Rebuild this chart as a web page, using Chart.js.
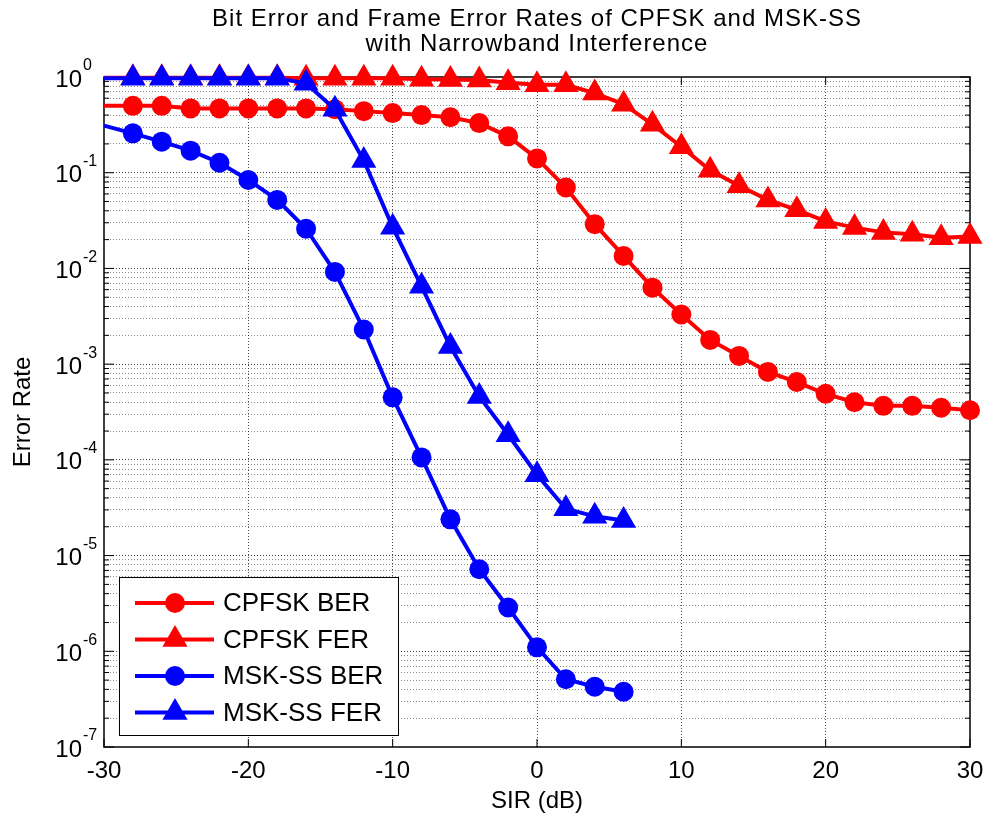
<!DOCTYPE html>
<html>
<head>
<meta charset="utf-8">
<script src="https://cdn.jsdelivr.net/npm/chart.js"></script>
<style>
body { margin: 0; background: #fff; }
#wrap { width: 987px; height: 819px; }
</style>
</head>
<body>
<div id="wrap"><canvas id="chart" width="987" height="819"></canvas></div>
<script>
// SIR in dB
const sirCpfsk = [-30, -28, -26, -24, -22, -20, -18, -16, -14, -12, -10, -8, -6, -4, -2,
                  0, 2, 4, 6, 8, 10, 12, 14, 16, 18, 20, 22, 24, 26, 28, 30];
const sirMsk = [-30, -28, -26, -24, -22, -20, -18, -16, -14, -12, -10, -8, -6, -4, -2, 0, 2, 4, 6];

const cpfskBer = [0.50, 0.50, 0.50, 0.47, 0.47, 0.47, 0.47, 0.47, 0.46, 0.44, 0.42, 0.40, 0.38, 0.33, 0.24,
                  0.141, 0.070, 0.029, 0.0135, 0.0063, 0.0033, 0.00179, 0.00122, 0.00083, 0.00065,
                  0.00049, 0.00040, 0.000367, 0.000367, 0.00035, 0.00033];
const cpfskFer = [0.98, 0.98, 0.98, 0.98, 0.98, 0.98, 0.98, 0.97, 0.97, 0.97, 0.97, 0.95, 0.94, 0.93, 0.87,
                  0.83, 0.83, 0.68, 0.52, 0.32, 0.187, 0.106, 0.073, 0.052, 0.041,
                  0.031, 0.0267, 0.0238, 0.0227, 0.0209, 0.0215];
const mskBer = [0.31, 0.258, 0.211, 0.170, 0.127, 0.084, 0.052, 0.026, 0.0092, 0.0023, 0.00045,
                1.06e-4, 2.39e-5, 7.2e-6, 2.87e-6, 1.10e-6, 5.1e-7, 4.26e-7, 3.78e-7];
const mskFer = [0.97, 0.97, 0.97, 0.97, 0.97, 0.97, 0.97, 0.86, 0.46, 0.134, 0.027,
                0.0065, 0.00153, 0.00046, 1.83e-4, 7.0e-5, 3.08e-5, 2.57e-5, 2.33e-5];

const xTicks = [-30, -20, -10, 0, 10, 20, 30];
const yExponents = [-7, -6, -5, -4, -3, -2, -1, 0];
const legendNames = ['CPFSK BER', 'CPFSK FER', 'MSK-SS BER', 'MSK-SS FER'];
const titleLines = ['Bit Error and Frame Error Rates of CPFSK and MSK-SS', 'with Narrowband Interference'];

const FONT = '"Liberation Sans", Arial, Helvetica, sans-serif';
const RED = '#ff0000';
const BLUE = '#0000ff';

function pairs(xs, ys) {
    return xs.map((v, i) => ({x: v, y: ys[i]}));
}

// first point sits on the axis edge, no marker there
function series(label, xs, ys, color, style, order) {
    return {
        label: label,
        data: pairs(xs, ys),
        borderColor: color,
        backgroundColor: color,
        borderWidth: 4,
        pointStyle: style,
        pointRadius: ctx => ctx.dataIndex === 0 ? 0 : (style === 'triangle' ? 14.5 : 10),
        pointBorderWidth: 0,
        pointBackgroundColor: color,
        tension: 0,
        clip: false,
        order: order
    };
}

function drawMarker(ctx, style, x, y, color) {
    ctx.fillStyle = color;
    ctx.beginPath();
    if (style === 'circle') {
        ctx.arc(x, y, 10, 0, Math.PI * 2);
    } else {
        const r = 14.5;
        ctx.moveTo(x, y - r);
        ctx.lineTo(x + r * Math.sin(Math.PI * 2 / 3), y + r / 2);
        ctx.lineTo(x - r * Math.sin(Math.PI * 2 / 3), y + r / 2);
        ctx.closePath();
    }
    ctx.fill();
}

const matlabAxes = {
    id: 'matlabAxes',
    beforeDatasetsDraw(chart) {
        const {ctx, chartArea: a, scales: {x, y}} = chart;
        ctx.save();
        ctx.strokeStyle = '#000';
        ctx.lineWidth = 1.5;
        ctx.strokeRect(a.left, a.top, a.right - a.left, a.bottom - a.top);
        ctx.lineWidth = 1;
        ctx.beginPath();
        xTicks.forEach(v => {
            const px = x.getPixelForValue(v);
            ctx.moveTo(px, a.bottom); ctx.lineTo(px, a.bottom - 8);
            ctx.moveTo(px, a.top); ctx.lineTo(px, a.top + 8);
        });
        y.ticks.forEach(t => {
            const py = y.getPixelForValue(t.value);
            const len = t.major ? 10 : 5;
            ctx.moveTo(a.left, py); ctx.lineTo(a.left + len, py);
            ctx.moveTo(a.right, py); ctx.lineTo(a.right - len, py);
        });
        ctx.stroke();
        ctx.restore();
    },
    afterDatasetsDraw(chart) {
        const ctx = chart.ctx;
        const colors = [RED, RED, BLUE, BLUE];
        const styles = ['circle', 'triangle', 'circle', 'triangle'];
        ctx.save();
        ctx.fillStyle = '#fff';
        ctx.fillRect(119, 577, 279, 158);
        ctx.strokeStyle = '#000';
        ctx.lineWidth = 1;
        ctx.strokeRect(119.5, 577.5, 279, 158);
        ctx.font = '26px ' + FONT;
        ctx.textBaseline = 'middle';
        legendNames.forEach((name, i) => {
            const ry = 603 + i * 36.5;
            ctx.strokeStyle = colors[i];
            ctx.lineWidth = 4;
            ctx.beginPath();
            ctx.moveTo(135, ry); ctx.lineTo(214, ry);
            ctx.stroke();
            drawMarker(ctx, styles[i], 175, ry, colors[i]);
            ctx.fillStyle = '#000';
            ctx.fillText(name, 223, ry + 1);
        });
        ctx.restore();
    },
    afterDraw(chart) {
        const {ctx, chartArea: a, scales: {x, y}} = chart;
        ctx.save();
        ctx.fillStyle = '#000';
        // title
        ctx.font = '24px ' + FONT;
        ctx.textAlign = 'center';
        ctx.textBaseline = 'alphabetic';
        ctx.letterSpacing = '1px';
        titleLines.forEach((line, i) => ctx.fillText(line, (a.left + a.right) / 2, 25.5 + i * 25));
        ctx.letterSpacing = '0px';
        ctx.textBaseline = 'middle';
        // x tick labels
        ctx.font = '24px ' + FONT;
        xTicks.forEach(v => ctx.fillText(String(v), x.getPixelForValue(v), a.bottom + 24));
        // y tick labels 10^n
        yExponents.forEach(e => {
            const py = y.getPixelForValue(Math.pow(10, e));
            ctx.font = '24px ' + FONT;
            ctx.textAlign = 'right';
            ctx.fillText('10', 82, py + 3);
            ctx.font = '16px ' + FONT;
            ctx.textAlign = 'left';
            ctx.fillText(String(e), 83, py - 11);
        });
        // axis titles
        ctx.font = '24px ' + FONT;
        ctx.textAlign = 'center';
        ctx.fillText('SIR (dB)', (a.left + a.right) / 2, 801);
        ctx.translate(23, (a.top + a.bottom) / 2);
        ctx.rotate(-Math.PI / 2);
        ctx.fillText('Error Rate', 0, 0);
        ctx.restore();
    }
};

const config = {
    type: 'line',
    data: {
        datasets: [
            series(legendNames[0], sirCpfsk, cpfskBer, RED, 'circle', 3),
            series(legendNames[1], sirCpfsk, cpfskFer, RED, 'triangle', 2),
            series(legendNames[2], sirMsk, mskBer, BLUE, 'circle', 1),
            series(legendNames[3], sirMsk, mskFer, BLUE, 'triangle', 0)
        ]
    },
    options: {
        responsive: false,
        animation: false,
        layout: {padding: {left: 0, right: 17, top: 77, bottom: 0}},
        plugins: {
            legend: {display: false},
            tooltip: {enabled: false},
            title: {display: false}
        },
        scales: {
            x: {
                type: 'linear',
                min: -30,
                max: 30,
                ticks: {display: false, stepSize: 10},
                grid: {
                    drawTicks: false,
                    color: ctx => (ctx.tick && Math.abs(ctx.tick.value) < 30) ? 'rgba(0,0,0,0.7)' : 'rgba(0,0,0,0)'
                },
                border: {display: false, dash: [1, 2]},
                afterFit: scale => { scale.height = 72; }
            },
            y: {
                type: 'logarithmic',
                min: 1e-7,
                max: 1,
                ticks: {display: false, autoSkip: false},
                afterBuildTicks: scale => {
                    const ticks = [];
                    yExponents.forEach(e => {
                        if (e === 0) { ticks.push({value: 1, major: true}); return; }
                        for (let m = 1; m <= 9; m++) ticks.push({value: m * Math.pow(10, e), major: m === 1});
                    });
                    scale.ticks = ticks;
                },
                grid: {
                    drawTicks: false,
                    color: ctx => {
                        if (!ctx.tick || ctx.tick.value >= 1 || ctx.tick.value <= 1e-7) return 'rgba(0,0,0,0)';
                        return ctx.tick.major ? 'rgba(0,0,0,0.75)' : 'rgba(0,0,0,0.45)';
                    }
                },
                border: {display: false, dash: [1, 2]},
                afterFit: scale => { scale.width = 104; }
            }
        }
    },
    plugins: [matlabAxes]
};

let ctx = document.getElementById('chart').getContext('2d');
new Chart(ctx, config);
</script>
</body>
</html>
